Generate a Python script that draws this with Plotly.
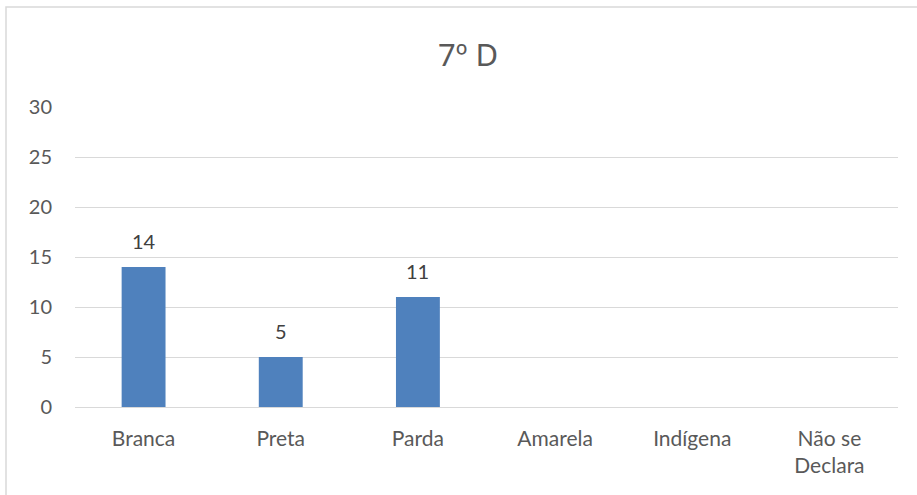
import plotly.graph_objects as go

categories = ["Branca", "Preta", "Parda", "Amarela", "Indígena", "Não se<br>Declara"]
values = [14, 5, 11, None, None, None]
y_ticks = [0, 5, 10, 15, 20, 25, 30]
title_text = "7º D"

W, H = 917, 495
L, R, T, B = 75, 19, 107, 88
pw, ph = W - L - R, H - T - B

fig = go.Figure()
fig.add_trace(go.Bar(
    x=categories, y=values,
    marker=dict(color="#4F81BD", line=dict(width=0)),
    hoverinfo="x+y",
))

for c, v in zip(categories, values):
    if v is not None:
        fig.add_annotation(x=c, y=v, text=str(v), showarrow=False,
                           yanchor="bottom", yshift=12,
                           font=dict(family="Lato", size=20, color="#404040"))

fig.add_shape(type="rect", xref="paper", yref="paper",
              x0=(6 - L) / pw, x1=(W + 20 - L) / pw,
              y0=-(H + 20 - (T + ph)) / ph, y1=(T + ph - 7) / ph,
              line=dict(color="#D9D9D9", width=1.5), fillcolor="rgba(0,0,0,0)", layer="below")

fig.update_layout(
    width=W, height=H,
    margin=dict(l=L, r=R, t=T, b=B, pad=0),
    paper_bgcolor="white", plot_bgcolor="white",
    title=dict(text=title_text, x=(468) / W, xanchor="center", xref="container",
               y=1 - 55 / H, yanchor="middle", yref="container",
               font=dict(family="Noto Sans", size=31, color="#595959")),
    bargap=0.68,
    showlegend=False,
    font=dict(family="Lato", size=20, color="#595959"),
)
fig.update_xaxes(showgrid=False, showline=False, ticks="", tickfont=dict(size=21, color="#595959"),
                 ticklabelstandoff=17)
fig.update_yaxes(range=[0, 30], tickvals=y_ticks, showgrid=True, gridcolor="#D9D9D9", gridwidth=1.3,
                 zeroline=True, zerolinecolor="#D9D9D9", zerolinewidth=1.3,
                 showline=False, ticks="", tickfont=dict(size=20, color="#595959"),
                 ticklabelstandoff=22)

fig.write_html("out.html")
